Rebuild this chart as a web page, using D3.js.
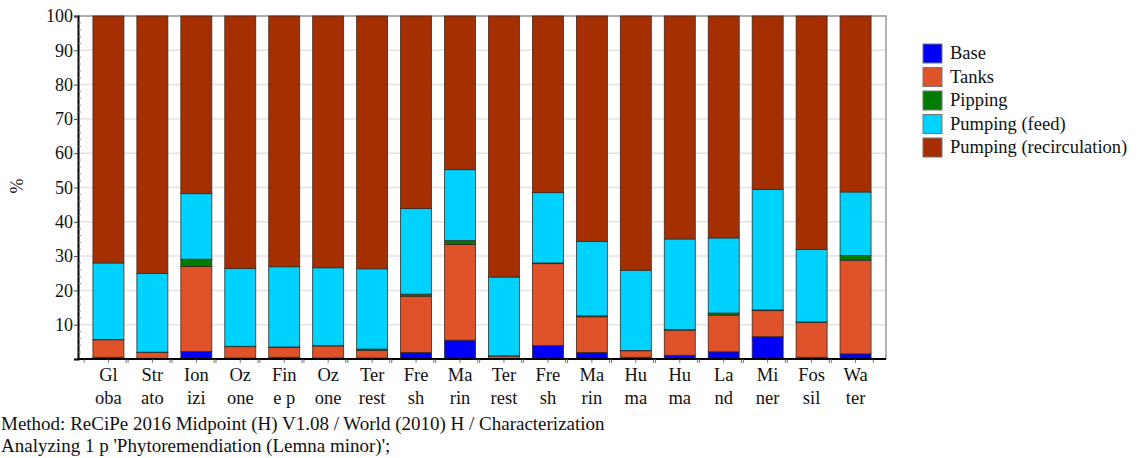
<!DOCTYPE html>
<html>
<head>
<meta charset="utf-8">
<script src="https://cdn.jsdelivr.net/npm/d3@7"></script>
<style>
  @font-face { font-family: 'ChartSerif'; src: local('Liberation Serif'), local('LiberationSerif'), local('Liberation Serif Regular'), local('LiberationSerif-Regular'); }
  body { margin: 0; background: #fff; }
  svg text, svg tspan { font-family: 'Liberation Serif', 'ChartSerif', 'Tinos', 'Times New Roman', serif !important; }
</style>
</head>
<body>
<script>
// category labels, as the chart wraps them on two lines
const labelTop = ['Gl', 'Str', 'Ion', 'Oz', 'Fin', 'Oz', 'Ter', 'Fre', 'Ma', 'Ter', 'Fre', 'Ma', 'Hu', 'Hu', 'La', 'Mi', 'Fos', 'Wa'];
const labelBottom = ['oba', 'ato', 'izi', 'one', 'e p', 'one', 'rest', 'sh', 'rin', 'rest', 'sh', 'rin', 'ma', 'ma', 'nd', 'ner', 'sil', 'ter'];

const seriesNames = ['Base', 'Tanks', 'Pipping', 'Pumping (feed)', 'Pumping (recirculation)'];
const seriesColors = ['#0000f8', '#e0522a', '#007a00', '#00d2ff', '#a52f00'];

// values in % per category
const base     = [0.5, 0.2, 2.2, 0.3, 0.5, 0.3, 0.3, 1.9, 5.5, 0.2, 3.9, 1.9, 0.5, 1.1, 2.1, 6.5, 0.5, 1.5];
const tanks    = [5.1, 1.7, 24.8, 3.3, 2.9, 3.5, 2.2, 16.4, 27.9, 0.7, 23.9, 10.4, 1.9, 7.3, 10.7, 7.6, 10.2, 27.3];
const pipping  = [0.1, 0.1, 2.1, 0.1, 0.1, 0.1, 0.4, 0.6, 1.1, 0.05, 0.2, 0.3, 0.1, 0.2, 0.6, 0.2, 0.1, 1.4];
const feed     = [22.3, 22.9, 19.1, 22.7, 23.4, 22.7, 23.4, 25.0, 20.7, 22.95, 20.5, 21.7, 23.4, 26.4, 21.9, 35.1, 21.1, 18.5];
const recirc   = [72.0, 75.1, 51.8, 73.6, 73.1, 73.4, 73.7, 56.1, 44.8, 76.1, 51.5, 65.7, 74.1, 65.0, 64.7, 50.6, 68.1, 51.3];

const seriesValues = [base, tanks, pipping, feed, recirc];
// several names repeat, so bars are keyed by position
const categories = labelTop.map((t, i) => i);

const font = 'Liberation Serif';
const width = 1137, height = 458;
const margin = { left: 78, right: 251, top: 16, bottom: 99 };

const svg = d3.select('body').append('svg')
    .attr('width', width)
    .attr('height', height)
    .attr('font-family', font);

const x = d3.scaleBand()
    .domain(categories)
    .range([margin.left, width - margin.right])
    .paddingInner(0.295)
    .paddingOuter(0.34);

const y = d3.scaleLinear()
    .domain([0, 100])
    .range([height - margin.bottom, margin.top]);

// grid
svg.append('g')
    .selectAll('line')
    .data(d3.range(10, 101, 10))
    .enter().append('line')
    .attr('x1', margin.left)
    .attr('x2', width - margin.right)
    .attr('y1', d => y(d))
    .attr('y2', d => y(d))
    .attr('stroke', '#e3e3e3')
    .attr('stroke-width', 1.5);

// frame top and right
svg.append('path')
    .attr('d', `M${margin.left},${y(100)}H${width - margin.right}V${y(0)}`)
    .attr('fill', 'none')
    .attr('stroke', '#999')
    .attr('stroke-width', 1.5);

// stacked data
const rows = categories.map(i => {
    let row = { cat: i };
    seriesNames.forEach((s, j) => { row[s] = seriesValues[j][i]; });
    return row;
});
const stacked = d3.stack().keys(seriesNames)(rows);

svg.append('g')
    .selectAll('g')
    .data(stacked)
    .enter().append('g')
    .attr('fill', (d, i) => seriesColors[i])
    .selectAll('rect')
    .data(d => d)
    .enter().append('rect')
    .attr('x', d => x(d.data.cat))
    .attr('width', x.bandwidth())
    .attr('y', d => y(Math.min(d[1], 100)))
    .attr('height', d => Math.max(0, y(d[0]) - y(Math.min(d[1], 100))))
    .attr('stroke', '#3a2a20')
    .attr('stroke-width', 0.8);

// y axis
const yAxis = d3.axisLeft(y)
    .tickValues(d3.range(10, 101, 10))
    .tickSize(4)
    .tickPadding(1);
const yg = svg.append('g')
    .attr('transform', `translate(${margin.left},0)`)
    .call(yAxis)
    .attr('font-family', font)
    .attr('font-size', 18);
yg.select('.domain').attr('stroke', '#000').attr('stroke-width', 2);
yg.selectAll('.tick line').attr('stroke', '#444');
yg.selectAll('.tick text').attr('fill', '#111');

// minor ticks on y axis
svg.append('g')
    .selectAll('line')
    .data(d3.range(2, 100, 2).filter(d => d % 10 !== 0))
    .enter().append('line')
    .attr('x1', margin.left)
    .attr('x2', margin.left + 3)
    .attr('y1', d => y(d))
    .attr('y2', d => y(d))
    .attr('stroke', '#777')
    .attr('stroke-width', 0.8);

// x axis line
svg.append('line')
    .attr('x1', margin.left - 1)
    .attr('x2', width - margin.right)
    .attr('y1', y(0))
    .attr('y2', y(0))
    .attr('stroke', '#000')
    .attr('stroke-width', 2);

// small ticks below x axis
const xTicks = [];
categories.forEach(c => {
    xTicks.push(x(c) - x.step() * 0.2);
    xTicks.push(x(c) + x.bandwidth() / 2);
    xTicks.push(x(c) + x.bandwidth() + x.step() * 0.05);
});
svg.append('g')
    .selectAll('line')
    .data(xTicks)
    .enter().append('line')
    .attr('x1', d => d)
    .attr('x2', d => d)
    .attr('y1', y(0))
    .attr('y2', y(0) + 4)
    .attr('stroke', '#555')
    .attr('stroke-width', 0.8);

// x labels
const xl = svg.append('g')
    .selectAll('text')
    .data(categories)
    .enter().append('text')
    .attr('text-anchor', 'middle')
    .attr('fill', '#111')
    .attr('font-size', 18.5);
xl.append('tspan')
    .attr('x', d => x(d) + x.bandwidth() / 2)
    .attr('y', 381)
    .text(d => labelTop[d]);
xl.append('tspan')
    .attr('x', d => x(d) + x.bandwidth() / 2)
    .attr('y', 404)
    .text(d => labelBottom[d]);

// y title
svg.append('text')
    .attr('transform', 'translate(23,186) rotate(-90)')
    .attr('text-anchor', 'middle')
    .attr('fill', '#111')
    .attr('font-size', 18)
    .text('%');

// legend
const legend = svg.append('g')
    .selectAll('g')
    .data(seriesNames)
    .enter().append('g')
    .attr('transform', (d, i) => `translate(923,${44 + i * 23.5})`);
legend.append('rect')
    .attr('width', 19)
    .attr('height', 19)
    .attr('fill', (d, i) => seriesColors[i])
    .attr('stroke', '#777')
    .attr('stroke-width', 1);
legend.append('text')
    .attr('x', 27)
    .attr('y', 15)
    .attr('fill', '#111')
    .attr('font-size', 18.5)
    .text(d => d);

// footer
svg.append('text')
    .attr('x', 1)
    .attr('y', 430)
    .attr('fill', '#111')
    .attr('font-size', 19)
    .text('Method: ReCiPe 2016 Midpoint (H) V1.08 / World (2010) H / Characterization');
svg.append('text')
    .attr('x', 1)
    .attr('y', 452)
    .attr('fill', '#111')
    .attr('font-size', 19)
    .text("Analyzing 1 p 'Phytoremendiation (Lemna minor)';");
</script>
</body>
</html>
